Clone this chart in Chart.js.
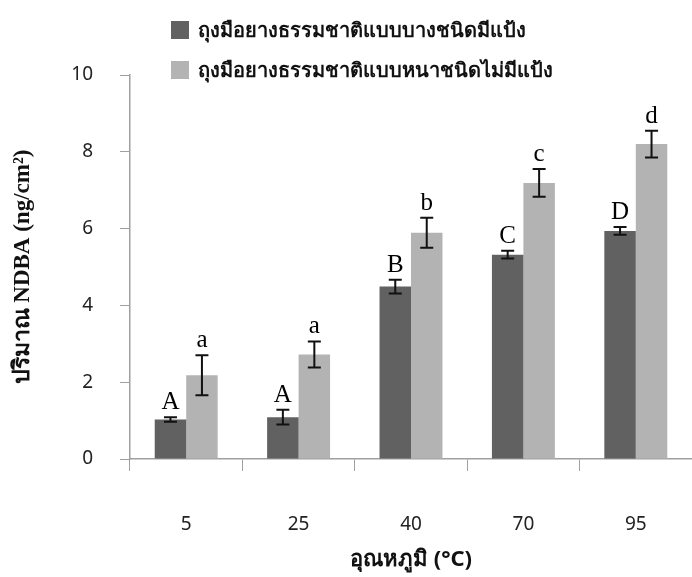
<!DOCTYPE html>
<html>
<head>
<meta charset="utf-8">
<script src="https://cdn.jsdelivr.net/npm/chart.js@4.4.1/dist/chart.umd.min.js"></script>
<style>
  body { margin: 0; background: #fff; }
  #wrap { position: relative; width: 692px; height: 577px; }
  #legend { position: absolute; left: 171px; top: 18px; font: bold 20px Tahoma, "Noto Sans", "DejaVu Sans", sans-serif; color: #111; }
  #legend div { display: flex; align-items: center; height: 24px; margin-bottom: 16px; }
  #legend span.box { display: inline-block; width: 18px; height: 18px; margin-right: 9px; }
</style>
</head>
<body>
<div id="wrap">
  <canvas id="c"></canvas>
  <div id="legend"></div>
</div>
<script>
// temperatures on the x axis
const categories = ["5", "25", "40", "70", "95"];

// series labels
const seriesNames = [
  "ถุงมือยางธรรมชาติแบบบางชนิดมีแป้ง",
  "ถุงมือยางธรรมชาติแบบหนาชนิดไม่มีแป้ง"
];

// NDBA (ng/cm2), means and error bars
const powdered = [1.03, 1.09, 4.49, 5.32, 5.94];
const powderedErr = [0.06, 0.19, 0.18, 0.10, 0.10];
const powderFree = [2.18, 2.72, 5.89, 7.19, 8.20];
const powderFreeErr = [0.52, 0.34, 0.39, 0.36, 0.35];

// significance letters
const lettersPowdered = ["A", "A", "B", "C", "D"];
const lettersPowderFree = ["a", "a", "b", "c", "d"];

const yMin = 0, yMax = 10, yStep = 2;

const colors = ["#616161", "#b3b3b3"];
const errs = [powderedErr, powderFreeErr];
const letters = [lettersPowdered, lettersPowderFree];
const sans = 'Tahoma, "Noto Sans", "DejaVu Sans", sans-serif';

// error bars + letters, drawn on top of the bars
const errorBarPlugin = {
  id: "errorBars",
  afterDatasetsDraw(chart) {
    const { ctx, scales: { y } } = chart;
    ctx.save();
    chart.data.datasets.forEach((ds, di) => {
      const meta = chart.getDatasetMeta(di);
      meta.data.forEach((bar, i) => {
        const v = ds.data[i], e = errs[di][i];
        const top = y.getPixelForValue(v + e);
        const bot = y.getPixelForValue(v - e);
        const x = bar.x;
        ctx.strokeStyle = "#111";
        ctx.lineWidth = 2;
        ctx.beginPath();
        ctx.moveTo(x, top); ctx.lineTo(x, bot);
        ctx.moveTo(x - 6.5, top); ctx.lineTo(x + 6.5, top);
        ctx.moveTo(x - 6.5, bot); ctx.lineTo(x + 6.5, bot);
        ctx.stroke();
        ctx.fillStyle = "#000";
        ctx.font = '25px "Liberation Serif", "Times New Roman", serif';
        ctx.textAlign = "center";
        ctx.textBaseline = "alphabetic";
        ctx.fillText(letters[di][i], x, top - 8);
      });
    });
    ctx.restore();
  }
};

const chart = new Chart(document.getElementById("c"), {
  type: "bar",
  data: {
    labels: categories,
    datasets: [
      { label: seriesNames[0], data: powdered, backgroundColor: colors[0] },
      { label: seriesNames[1], data: powderFree, backgroundColor: colors[1] }
    ]
  },
  options: {
    responsive: true,
    maintainAspectRatio: false,
    animation: false,
    layout: { padding: { top: 75, right: 0, left: 0, bottom: 0 } },
    datasets: { bar: { categoryPercentage: 0.56, barPercentage: 1.0 } },
    plugins: { legend: { display: false }, tooltip: { enabled: false } },
    scales: {
      x: {
        afterFit(scale) { scale.height = 118; },
        grid: { drawOnChartArea: false, offset: true, tickLength: 12, color: "#a0a0a0" },
        border: { color: "#a0a0a0", width: 1.5 },
        ticks: { color: "#222", padding: 42, font: { size: 19, family: sans } },
        title: {
          display: true,
          text: "อุณหภูมิ (°C)",
          color: "#111",
          padding: { bottom: 4 },
          font: { size: 22, weight: "bold", family: sans }
        }
      },
      y: {
        min: yMin,
        max: yMax,
        afterFit(scale) { scale.width = 130; },
        grid: { drawOnChartArea: false, tickLength: 10, color: "#a0a0a0" },
        border: { color: "#a0a0a0", width: 1.5 },
        ticks: { stepSize: yStep, color: "#222", padding: 27, font: { size: 19, family: sans } },
        title: {
          display: true,
          text: "ปริมาณ NDBA (ng/cm²)",
          color: "#111",
          padding: { top: 9 },
          font: { size: 23, weight: "bold", family: '"Liberation Serif", "Times New Roman", serif' }
        }
      }
    }
  },
  plugins: [errorBarPlugin]
});

// HTML legend built from the datasets
const legend = document.getElementById("legend");
chart.data.datasets.forEach(ds => {
  const row = document.createElement("div");
  const box = document.createElement("span");
  box.className = "box";
  box.style.background = ds.backgroundColor;
  row.appendChild(box);
  row.appendChild(document.createTextNode(ds.label));
  legend.appendChild(row);
});
</script>
</body>
</html>
